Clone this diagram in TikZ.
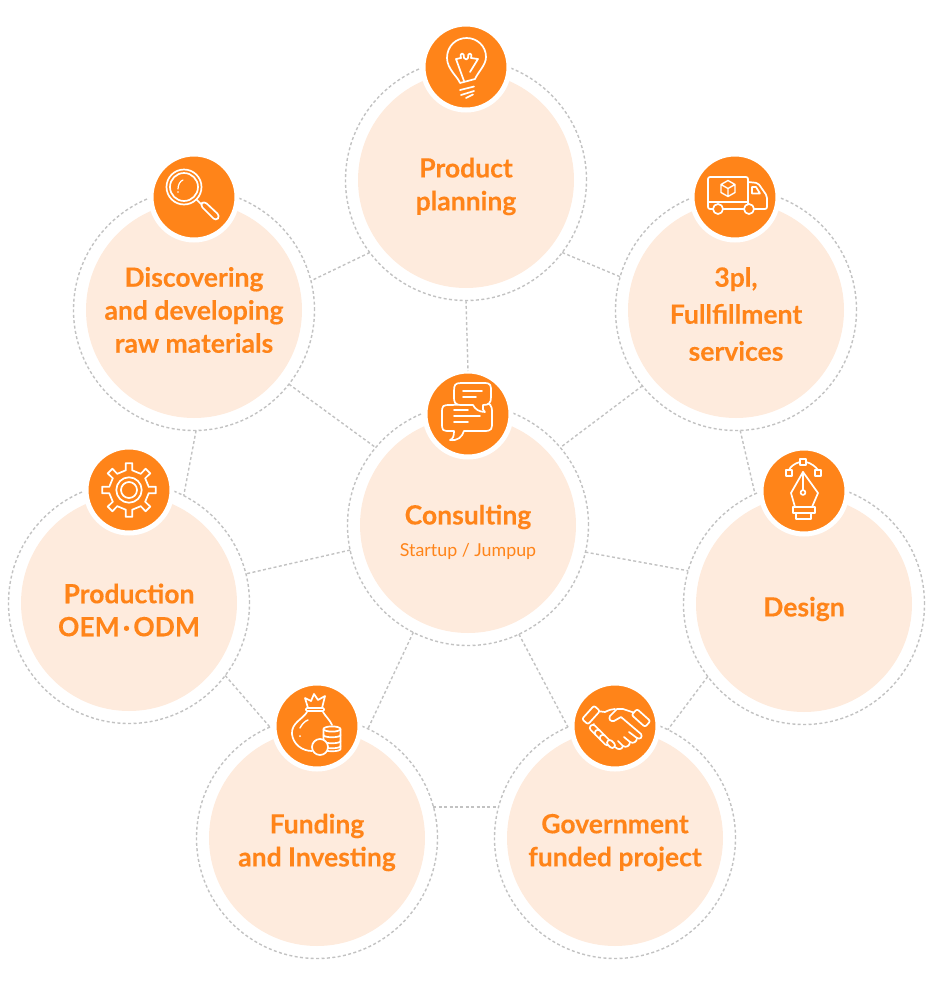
\documentclass[tikz,border=0pt]{standalone}
\usepackage{fontspec}
\setmainfont{Lato}[BoldFeatures={FakeBold=0.25}]
\definecolor{brand}{HTML}{FF8419}
\definecolor{pale}{HTML}{FEEBDD}
\definecolor{dashgray}{HTML}{C2C2C2}
\tikzset{
 conn/.style={draw=dashgray,line width=1.4pt,dash pattern=on 3pt off 2.4pt},
 ringnode/.style={circle,draw=dashgray,line width=1.4pt,dash pattern=on 3pt off 2.4pt,minimum size=241pt,inner sep=0pt,outer sep=0pt},
 disc/.style={circle,fill=pale,minimum size=216pt,inner sep=0pt,outer sep=0pt},
 iconnode/.style={circle,fill=brand,draw=white,line width=5pt,minimum size=86pt,inner sep=0pt,outer sep=0pt},
 lab/.style={text=brand,font=\fontsize{26.5}{33}\selectfont\bfseries,align=center,inner sep=0pt},
 sublab/.style={text=brand,font=\fontsize{17.8}{20}\selectfont,inner sep=0pt},
 ic/.style={draw=white,line width=1.7pt,line join=round,line cap=round},
 icf/.style={ic,fill=brand}
}
\newcommand{\iconBulb}{
 \draw[ic] (-6,16) .. controls (-8,10) and (-19,2) .. (-19,-9) .. controls (-19,-21) and (-10,-29) .. (0.7,-29) .. controls (11,-29) and (20,-21) .. (20,-10) .. controls (20,-2) and (12,5) .. (9,12) -- cycle;
 \draw[ic] (-2,14) -- (-10,-8) -- (-5,-9) .. controls (-7,-15) and (-1,-15) .. (-2,-9) .. controls (0,-7) and (1,-7) .. (2,-9) .. controls (1,-15) and (7,-15) .. (5,-9) -- (12,-8) -- (4,5);
 \draw[ic] (-6,23) -- (8,19.5) (-5,28) -- (8,24) (0,31) -- (7,27.5);
}
\newcommand{\iconLens}{
 \draw[ic] (-10,-10) circle (17.5) (-10,-10) circle (14);
 \draw[ic] (2.5,2.5) -- (7,7);
 \draw[ic,rounded corners=3.5pt] (6,8) -- (10,4) -- (26,19) -- (22,24) -- cycle;
 \draw[ic,line width=1.2pt] (-16,-8) .. controls (-16,-12) and (-14,-16) .. (-11,-17);
 \fill[white] (-16,-5) circle (0.9);
}
\newcommand{\iconTruck}{
 \draw[ic,rounded corners=2pt] (-21.5,12) -- (-27,12) -- (-27,-20) -- (13,-20) -- (13,12) -- (8.5,12);
 \draw[ic] (-12,12) -- (8.5,12);
 \draw[ic] (-27,5) -- (13,5);
 \draw[ic,rounded corners=2pt] (13,-15) -- (23,-14) -- (32,-1) -- (32,12) -- (19.5,12);
 \draw[ic] (17,-10) -- (21,-10) -- (25,-3.5) -- (17,-3.5) -- cycle;
 \draw[ic,fill=brand] (-17,12) circle (5) (14,12) circle (5);
 \draw[ic,line width=1.4pt] (-7,-16.5) -- (0,-12.5) -- (0,-4.5) -- (-7,-0.5) -- (-14,-4.5) -- (-14,-12.5) -- cycle (-14,-12.5) -- (-7,-8.5) -- (0,-12.5) (-7,-8.5) -- (-7,-0.5);
}
\newcommand{\iconChat}{
 \draw[icf] (-16,-9) .. controls (-26,-9) and (-26,-9) .. (-26,0) -- (-26,8) .. controls (-26,17) and (-26,17) .. (-17,17) -- (-14,17) .. controls (-14,22) and (-15,25) .. (-18,26) .. controls (-10,27) and (-6,23) .. (-4,17) -- (16,17) .. controls (24,17) and (24,15) .. (24,8) -- (24,-2) .. controls (24,-9) and (22,-11) .. (16,-11) -- cycle;
 \draw[icf] (-7,-31) -- (16,-31) .. controls (23,-31) and (23,-29) .. (23,-22) -- (23,-17) .. controls (23,-11) and (21,-9) .. (15,-9) .. controls (14,-6) and (15,-3) .. (17,-2) .. controls (11,-2) and (7,-5) .. (5,-9) -- (-6,-9) .. controls (-14,-9) and (-14,-12) .. (-14,-18) -- (-14,-23) .. controls (-14,-29) and (-13,-31) .. (-7,-31) -- cycle;
 \draw[ic] (-5,-23) -- (14,-23) (-5,-17) -- (8,-17);
 \draw[ic] (-14,-4) -- (0,-4) (-14,2) -- (12,2) (-14,8) -- (0,8);
}
\newcommand{\iconPen}{
 \draw[ic] (-15,-21) .. controls (-14,-24) and (-9,-28) .. (-4,-29) (2,-29) .. controls (7,-28) and (12,-24) .. (14,-21);
 \draw[ic] (-18,-21) rectangle (-12,-15) (-4,-32) rectangle (2,-26) (11,-21) rectangle (17,-15);
 \draw[ic] (-1,-19) -- (14,2) -- (8,16) -- (-9,16) -- (-13,2) -- cycle;
 \draw[ic] (-1,-19) -- (-1,-1);
 \draw[ic] (-1,1.5) circle (2.4);
 \draw[ic] (-11,16) rectangle (11,22) (-8,22) rectangle (7,28);
}
\newcommand{\iconGear}{
 \draw[ic] (20,-3) \foreach \a in {0,45,...,315} { -- (\a-9:20) -- (\a-7:27) -- (\a+7:27) -- (\a+9:20) -- (\a+36:20) } -- cycle;
 \draw[ic] (0,0) circle (12.7) (0,0) circle (8);
}
\newcommand{\iconBag}{
 \draw[ic] (-10,-14) .. controls (-14,-7) and (-26,-3) .. (-25,8) .. controls (-24,18) and (-15,25) .. (-5,25);
 \draw[ic] (6,-14) .. controls (9,-9) and (13,-6) .. (15,-1);
 \draw[ic,rounded corners=1pt] (-11,-18) rectangle (7,-15);
 \draw[ic] (-9,-18) -- (-12,-28) -- (-6,-25) -- (-3,-32) -- (1,-26) -- (8,-30) -- (5,-18);
 \draw[ic,line width=1.4pt] (-17,2) .. controls (-15,-2) and (-12,-5) .. (-9,-6);
 \fill[white] (-17,10) circle (1);
 \draw[icf] (6.5,3) -- (6.5,23) .. controls (6.5,26) and (23.5,26) .. (23.5,23) -- (23.5,3);
 \draw[icf] (15,3) ellipse (8.5 and 2.6);
 \draw[ic] (6.5,9) .. controls (6.5,12) and (23.5,12) .. (23.5,9)
  (6.5,15) .. controls (6.5,18) and (23.5,18) .. (23.5,15)
  (6.5,20) .. controls (6.5,23) and (23.5,23) .. (23.5,20);
 \draw[icf] (3,21) circle (8);
}
\newcommand{\iconShake}{
 \draw[ic] (-18,-15) -- (-10,-14) .. controls (-6,-16) and (-3,-17) .. (0,-17);
 \draw[ic] (20,-13) -- (8,-17) -- (2,-17) -- (-5,-10) .. controls (-7,-7) and (-4,-4) .. (-1,-5) -- (6,-9) -- (26,8) .. controls (28,11) and (25,14) .. (22,12);
 \draw[ic] (22,12) -- (14,6);
 \draw[ic] (22,12) .. controls (22,16) and (18,18) .. (15,16) -- (9,11);
 \draw[ic] (15,16) .. controls (15,20) and (11,22) .. (8,20) -- (3,15);
 \draw[ic] (8,20) .. controls (7,24) and (3,24) .. (0,21);
 \draw[ic] (-21,-2) -- (-24,2);
 \begin{scope}[shift={(-24,-11)},rotate=48]
  \draw[icf,rounded corners=2pt] (-9,-4) rectangle (9,4);
 \end{scope}
 \begin{scope}[shift={(26,-8)},rotate=-42]
  \draw[icf,rounded corners=2pt] (-9,-4) rectangle (9,4);
 \end{scope}
 \begin{scope}[shift={(-20,4)},rotate=-45]
  \draw[icf,rounded corners=2.7pt] (-6,-3) rectangle (6,3);
 \end{scope}
 \begin{scope}[shift={(-15,9)},rotate=-45]
  \draw[icf,rounded corners=2.7pt] (-6,-3) rectangle (6,3);
 \end{scope}
 \begin{scope}[shift={(-10,14)},rotate=-45]
  \draw[icf,rounded corners=2.7pt] (-6,-3) rectangle (6,3);
 \end{scope}
 \begin{scope}[shift={(-4,18)},rotate=-45]
  \draw[icf,rounded corners=2.7pt] (-4.5,-2.7) rectangle (4.5,2.7);
 \end{scope}
}
\begin{document}
\begin{tikzpicture}[x=1pt,y=-1pt]
\useasboundingbox (0,0) rectangle (935,1002);
% outer rings
\node[ringnode] (top) at (466,180) {};
\node[ringnode] (disco) at (194,310) {};
\node[ringnode] (tpl) at (736,310) {};
\node[ringnode] (cons) at (468,525) {};
\node[ringnode] (design) at (804,604) {};
\node[ringnode] (prod) at (129,603) {};
\node[ringnode] (fund) at (317,838) {};
\node[ringnode] (gov) at (615,838) {};
% filled discs
\node[disc] (topd) at (top) {};
\node[disc] (discod) at (disco) {};
\node[disc] (tpld) at (tpl) {};
\node[disc] (consd) at (cons) {};
\node[disc] (designd) at (design) {};
\node[disc] (prodd) at (prod) {};
\node[disc] (fundd) at (fund) {};
\node[disc] (govd) at (gov) {};
% icon discs
\node[iconnode] (topi) at (466,67) {};
\node[iconnode] (discoi) at (194,197) {};
\node[iconnode] (tpli) at (735,197) {};
\node[iconnode] (consi) at (468,414) {};
\node[iconnode] (designi) at (804,491) {};
\node[iconnode] (prodi) at (129,490) {};
\node[iconnode] (fundi) at (317,726) {};
\node[iconnode] (govi) at (615,726) {};
% connectors
\draw[conn] (top.217.6) -- (disco.14.3);
\draw[conn] (top.323.7) -- (tpl.164.8);
\draw[conn] (top.270) -- (consi.90);
\draw[conn] (disco.322.6) -- (cons.140.4);
\draw[conn] (tpl.219) -- (cons.40.3);
\draw[conn] (disco.271) -- (prod.63.4);
\draw[conn] (tpl.272) -- (design.114.9);
\draw[conn] (cons.192.4) -- (prod.14.6);
\draw[conn] (cons.347.6) -- (design.164.8);
\draw[conn] (cons.243.2) -- (fund.65.2);
\draw[conn] (cons.295.1) -- (gov.113.9);
\draw[conn] (prod.323.4) -- (fund.113.1);
\draw[conn] (design.217.6) -- (gov.64.7);
\draw[conn] (fund.15) -- (gov.165);
% icons
\begin{scope}[shift={(topi.center)}]\iconBulb\end{scope}
\begin{scope}[shift={(discoi.center)}]\iconLens\end{scope}
\begin{scope}[shift={(tpli.center)}]\iconTruck\end{scope}
\begin{scope}[shift={(consi.center)}]\iconChat\end{scope}
\begin{scope}[shift={(designi.center)}]\iconPen\end{scope}
\begin{scope}[shift={(prodi.center)}]\iconGear\end{scope}
\begin{scope}[shift={(fundi.center)}]\iconBag\end{scope}
\begin{scope}[shift={(govi.center)}]\iconShake\end{scope}
% labels
\node[lab] (ltop) at (466,186.5) {Product\\planning};
\node[lab] (ldisco) at (194,310) {Discovering\\and developing\\raw materials};
\node[lab,font=\fontsize{26.5}{37}\selectfont\bfseries] (ltpl) at (736,314) {3pl,\\Fullfillment\\services};
\node[lab] (lcons) at (468,517) {Consulting};
\node[sublab] (lcons2) at (468,551) {Startup / Jumpup};
\node[lab] (ldesign) at (804,609) {Design};
\node[lab] (lprod) at (129,610) {Production\\{\spaceskip=0.12em\relax OEM · ODM}};
\node[lab] (lfund) at (317,842.5) {Funding\\and Investing};
\node[lab] (lgov) at (615,842.5) {Government\\funded project};
\end{tikzpicture}
\end{document}
